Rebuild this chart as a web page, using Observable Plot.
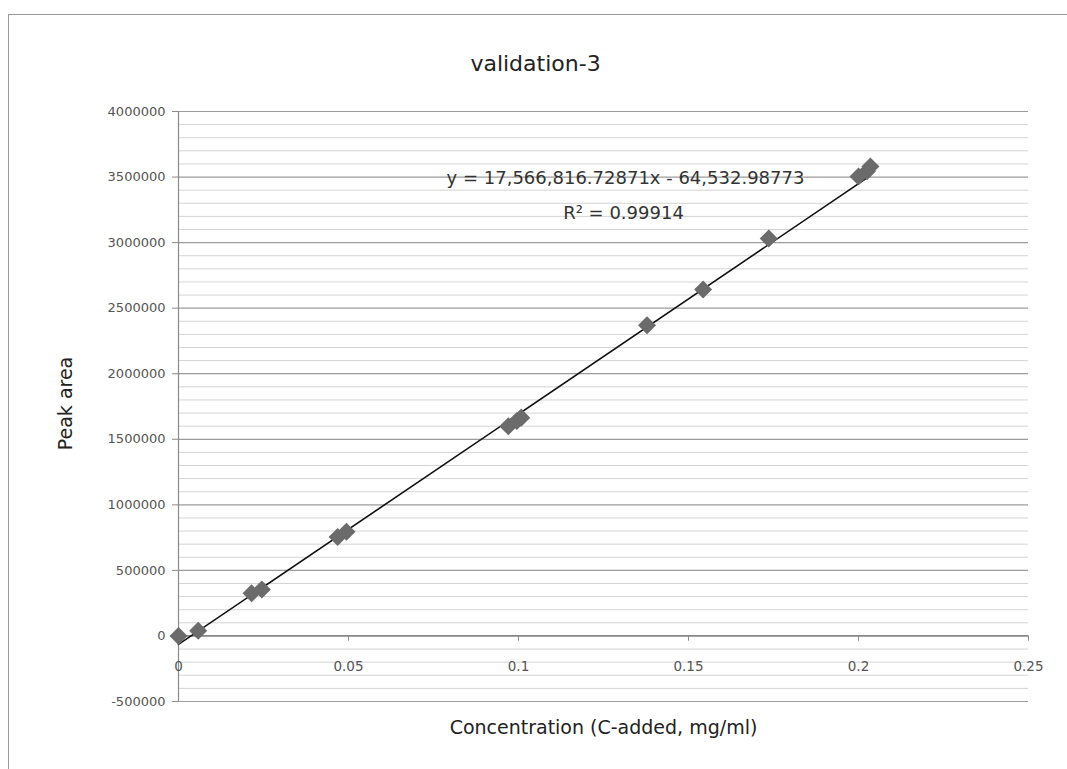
<!DOCTYPE html>
<html>
<head>
<meta charset="utf-8">
<script src="https://cdn.jsdelivr.net/npm/d3@7"></script>
<script src="https://cdn.jsdelivr.net/npm/@observablehq/plot@0.6"></script>
<style>
  html, body { margin: 0; padding: 0; background: #fff; }
  #wrap { position: relative; width: 1067px; height: 769px; overflow: hidden; }
  #border { position: absolute; left: 8px; top: 14px; width: 1100px; height: 800px;
            border-top: 1px solid #9a9a9a; border-left: 1px solid #9a9a9a; pointer-events: none; }
</style>
</head>
<body>
<div id="wrap"><div id="border"></div></div>
<script>
const title = "validation-3";
const xLabel = "Concentration (C-added, mg/ml)";
const yLabel = "Peak area";
const equationText = "y = 17,566,816.72871x - 64,532.98773";
const r2Text = "R² = 0.99914";

const concentration = [0, 0.0058, 0.0215, 0.0245, 0.0468, 0.0494, 0.097, 0.0995, 0.1008, 0.1378, 0.1543, 0.1736, 0.2, 0.2025, 0.2035];
const peakArea      = [0, 40000, 325000, 355000, 755000, 795000, 1600000, 1640000, 1665000, 2370000, 2643000, 3031000, 3505000, 3545000, 3580000];

const slope = 17566816.72871;
const intercept = -64532.98773;

const xTicks = [0, 0.05, 0.1, 0.15, 0.2, 0.25];
const xTickLabels = ["0", "0.05", "0.1", "0.15", "0.2", "0.25"];
const yMajorTicks = [-500000, 0, 500000, 1000000, 1500000, 2000000, 2500000, 3000000, 3500000, 4000000];
const yMinorTicks = d3.range(-500000, 4000001, 100000).filter(v => v % 500000 !== 0);

const points = concentration.map((c, i) => ({c, a: peakArea[i]}));
const xMax = d3.max(concentration);
const fitLine = [0, xMax].map(c => ({c, a: slope * c + intercept}));

const font = "'DejaVu Sans', 'Open Sans', sans-serif";
const label = (txt, dx, dy, size, extra = {}) =>
  Plot.text([txt], {frameAnchor: "top-left", dx, dy, text: d => d, fontSize: size,
                    textAnchor: "middle", lineAnchor: "middle", fill: "#222", ...extra});

const chart = Plot.plot({
  width: 1067,
  height: 769,
  marginLeft: 178,
  marginRight: 39,
  marginTop: 111,
  marginBottom: 68,
  style: {fontFamily: font, background: "transparent", overflow: "visible"},
  x: {domain: [0, 0.25], axis: null},
  y: {domain: [-500000, 4000000]},
  marks: [
    Plot.ruleY(yMinorTicks, {stroke: "#d4d4d4", strokeWidth: 1}),
    Plot.ruleY(yMajorTicks, {stroke: "#9c9c9c", strokeWidth: 1.2}),
    Plot.ruleX([0], {stroke: "#8a8a8a", strokeWidth: 1.2}),
    Plot.ruleY([0], {stroke: "#7a7a7a", strokeWidth: 1.3}),
    Plot.ruleX(xTicks, {x: d => d, y1: 0, y2: -40000, stroke: "#8a8a8a"}),
    Plot.text(xTicks, {x: d => d, y: 0, text: (d, i) => xTickLabels[i], dy: 31, lineAnchor: "middle",
                       fontSize: 13.5, fill: "#555"}),
    Plot.axisY({ticks: yMajorTicks, tickFormat: d => String(d), tickSize: 6, tickPadding: 7,
                fontSize: 13, color: "#555", label: null, stroke: "#8a8a8a"}),
    Plot.line(fitLine, {x: "c", y: "a", stroke: "#111", strokeWidth: 1.6}),
    Plot.dot(points, {x: "c", y: "a", symbol: "square", rotate: 45, r: 7.2, fill: "#6b6b6b", stroke: "none"}),
    label(title, 357, -48, 22),
    label(equationText, 447, 67, 18, {fill: "#333"}),
    label(r2Text, 445, 102, 18, {fill: "#333"}),
    label(xLabel, 425, 616, 19),
    label(yLabel, -113, 292, 19, {rotate: -90})
  ]
});
document.getElementById("wrap").prepend(chart);
</script>
</body>
</html>
